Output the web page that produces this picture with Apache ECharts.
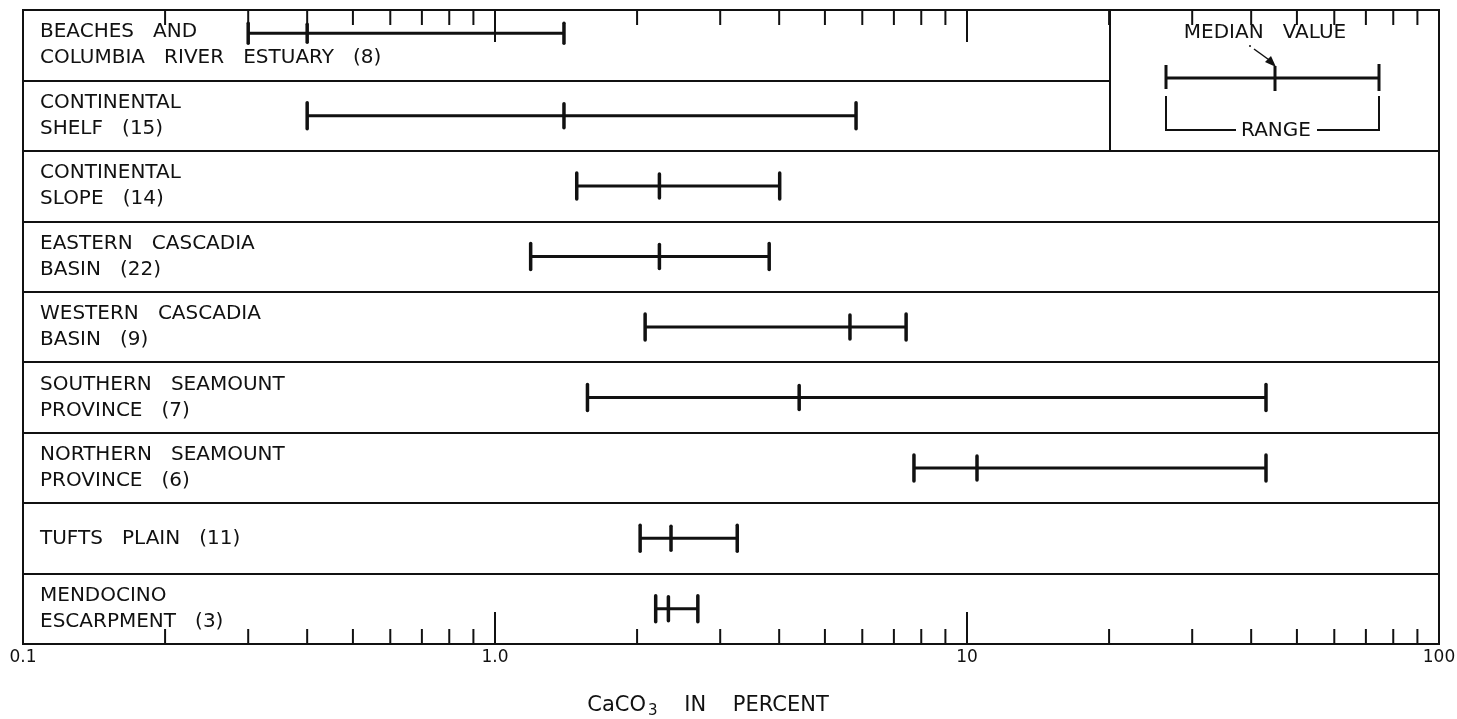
<!DOCTYPE html>
<html>
<head>
    <meta charset="utf-8" />
    <title>CaCO3 in percent</title>
    <script src="https://cdn.jsdelivr.net/npm/echarts@6/dist/echarts.min.js"></script>
    <style>
        html, body { margin: 0; padding: 0; background: #fff; }
        #chart { width: 1457px; height: 719px; }
    </style>
</head>
<body>
    <div id="chart"></div>
    <script>
        // rows, top to bottom
        var provinces = [
            'BEACHES   AND\nCOLUMBIA   RIVER   ESTUARY   (8)',
            'CONTINENTAL\nSHELF   (15)',
            'CONTINENTAL\nSLOPE   (14)',
            'EASTERN   CASCADIA\nBASIN   (22)',
            'WESTERN   CASCADIA\nBASIN   (9)',
            'SOUTHERN   SEAMOUNT\nPROVINCE   (7)',
            'NORTHERN   SEAMOUNT\nPROVINCE   (6)',
            'TUFTS   PLAIN   (11)',
            'MENDOCINO\nESCARPMENT   (3)'
        ];
        // CaCO3 percent
        var lowValues    = [0.30, 0.40, 1.49, 1.19, 2.08, 1.57, 7.72, 2.03, 2.19];
        var medianValues = [0.40, 1.40, 2.23, 2.23, 5.65, 4.41, 10.5, 2.36, 2.33];
        var highValues   = [1.40, 5.82, 4.01, 3.81, 7.43, 43.0, 43.0, 3.26, 2.69];

        // log axis tick marks
        var minorTicks = [0.2, 0.3, 0.4, 0.5, 0.6, 0.7, 0.8, 0.9,
                          2, 3, 4, 5, 6, 7, 8, 9,
                          20, 30, 40, 50, 60, 70, 80, 90];
        var majorTicks = [1, 10];

        var ink = '#111';
        var font = 'DejaVu Sans';

        var barData = provinces.map(function (p, i) {
            return [lowValues[i], medianValues[i], highValues[i], i];
        });
        var tickData = minorTicks.map(function (v) { return [v, 0, 0]; })
            .concat(majorTicks.map(function (v) { return [v, 0, 1]; }));

        function renderRange(params, api) {
            var row = api.value(3);
            var pLow = api.coord([api.value(0), row]);
            var pMed = api.coord([api.value(1), row]);
            var pHigh = api.coord([api.value(2), row]);
            // the first row's bar sits above its second text line
            var first = row === 0;
            var y = pLow[1] - (first ? 12 : 0);
            var h = first ? 10 : 13;
            var line = { stroke: ink, lineWidth: 3 };
            var cap = { stroke: ink, lineWidth: 3.5, lineCap: 'round' };
            return {
                type: 'group',
                children: [
                    { type: 'line', shape: { x1: pLow[0], y1: y, x2: pHigh[0], y2: y }, style: line },
                    { type: 'line', shape: { x1: pLow[0], y1: y - h, x2: pLow[0], y2: y + h }, style: cap },
                    { type: 'line', shape: { x1: pHigh[0], y1: y - h, x2: pHigh[0], y2: y + h }, style: cap },
                    { type: 'line', shape: { x1: pMed[0], y1: y - h + 1, x2: pMed[0], y2: y + h - 1 }, style: cap }
                ]
            };
        }

        function renderTick(params, api) {
            var cs = params.coordSys;
            var x = api.coord([api.value(0), 0])[0];
            var len = api.value(2) ? 32 : 15;
            var top = cs.y, bottom = cs.y + cs.height;
            var st = { stroke: ink, lineWidth: 2 };
            return {
                type: 'group',
                children: [
                    { type: 'line', shape: { x1: x, y1: top, x2: x, y2: top + len }, style: st },
                    { type: 'line', shape: { x1: x, y1: bottom, x2: x, y2: bottom - len }, style: st }
                ]
            };
        }

        var chart = echarts.init(document.getElementById('chart'));

        var legendFont = '20px "DejaVu Sans"';
        var option = {
            animation: false,
            backgroundColor: '#fff',
            textStyle: { fontFamily: font },
            grid: {
                left: 23, right: 18, top: 10, bottom: 75,
                outerBoundsMode: 'none',
                show: true, borderColor: ink, borderWidth: 2
            },
            xAxis: {
                type: 'log',
                logBase: 10,
                min: 0.1,
                max: 100,
                axisLine: { show: false },
                axisTick: { show: false },
                splitLine: { show: false },
                axisLabel: {
                    color: ink, fontSize: 17, margin: 5, fontFamily: font,
                    showMinLabel: true, showMaxLabel: true,
                    formatter: function (v) {
                        if (Math.abs(v - 1) < 1e-9) return '1.0';
                        if (Math.abs(v - 0.1) < 1e-9) return '0.1';
                        return String(Math.round(v));
                    }
                },
                name: '{n|CaCO}{s|3}{n|    IN    PERCENT}',
                nameLocation: 'middle',
                nameGap: 48,
                nameTextStyle: {
                    padding: [0, 46, 0, 0],
                    rich: {
                        n: { fontSize: 21, color: ink, fontFamily: font },
                        s: { fontSize: 15, color: ink, fontFamily: font, padding: [12, 0, 0, 2] }
                    }
                }
            },
            yAxis: {
                type: 'category',
                data: provinces,
                inverse: true,
                axisLine: { show: false },
                axisTick: { show: false },
                splitLine: { show: true, lineStyle: { color: ink, width: 2 } },
                axisLabel: {
                    inside: true, margin: 17, fontSize: 20, lineHeight: 26,
                    color: ink, fontFamily: font, interval: 0
                }
            },
            graphic: [
                { type: 'rect', z: 100, shape: { x: 1111, y: 11, width: 327, height: 139 }, style: { fill: '#fff' } },
                { type: 'line', z: 101, shape: { x1: 1110, y1: 10, x2: 1110, y2: 151 }, style: { stroke: ink, lineWidth: 2 } },
                { type: 'line', z: 101, shape: { x1: 1110, y1: 151, x2: 1439, y2: 151 }, style: { stroke: ink, lineWidth: 2 } },
                { type: 'text', z: 101, x: 1265, y: 33, style: { text: 'MEDIAN   VALUE', fill: ink, font: legendFont, align: 'center', verticalAlign: 'middle' } },
                { type: 'circle', z: 101, shape: { cx: 1250, cy: 46, r: 1 }, style: { fill: ink } },
                { type: 'line', z: 101, shape: { x1: 1254, y1: 49, x2: 1272, y2: 62 }, style: { stroke: ink, lineWidth: 1.5 } },
                { type: 'polygon', z: 101, shape: { points: [[1276, 67], [1265, 62], [1271, 56]] }, style: { fill: ink } },
                { type: 'line', z: 101, shape: { x1: 1166, y1: 78, x2: 1379, y2: 78 }, style: { stroke: ink, lineWidth: 3 } },
                { type: 'line', z: 101, shape: { x1: 1166, y1: 65, x2: 1166, y2: 89 }, style: { stroke: ink, lineWidth: 3 } },
                { type: 'line', z: 101, shape: { x1: 1275, y1: 66, x2: 1275, y2: 91 }, style: { stroke: ink, lineWidth: 3 } },
                { type: 'line', z: 101, shape: { x1: 1379, y1: 64, x2: 1379, y2: 91 }, style: { stroke: ink, lineWidth: 3 } },
                { type: 'polyline', z: 101, shape: { points: [[1166, 96], [1166, 130], [1236, 130]] }, style: { stroke: ink, lineWidth: 2, fill: null } },
                { type: 'polyline', z: 101, shape: { points: [[1317, 130], [1379, 130], [1379, 96]] }, style: { stroke: ink, lineWidth: 2, fill: null } },
                { type: 'text', z: 101, x: 1276, y: 131, style: { text: 'RANGE', fill: ink, font: legendFont, align: 'center', verticalAlign: 'middle' } }
            ],
            series: [
                {
                    type: 'custom',
                    name: 'range',
                    z: 5,
                    renderItem: renderRange,
                    encode: { x: [0, 1, 2], y: 3 },
                    data: barData
                },
                {
                    type: 'custom',
                    name: 'ticks',
                    z: 200,
                    renderItem: renderTick,
                    encode: { x: 0, y: 1 },
                    data: tickData
                }
            ]
        };

        chart.setOption(option);
    </script>
</body>
</html>
